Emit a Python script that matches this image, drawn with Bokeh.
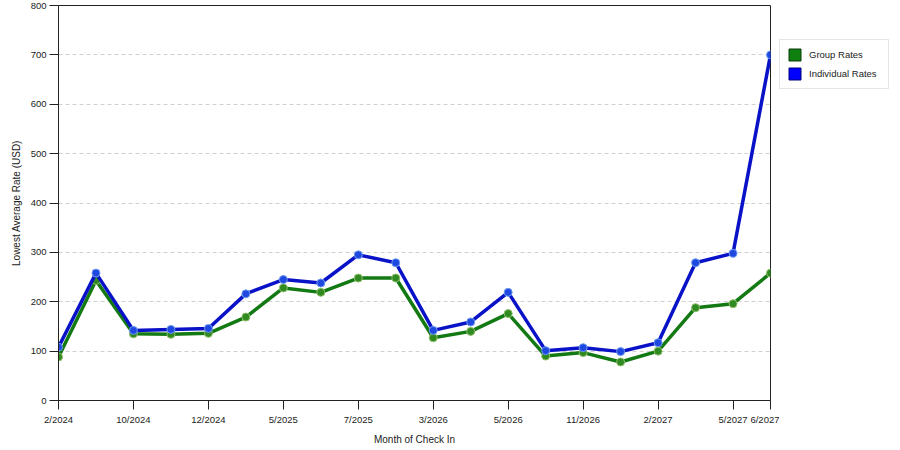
from bokeh.plotting import figure
from bokeh.layouts import row
from bokeh.models import (ColumnDataSource, Legend, LegendItem, FixedTicker,
                          Range1d)
from bokeh.embed import file_html
from bokeh.resources import INLINE

# datos
months = list(range(20))
tick_idx = [0, 2, 4, 6, 8, 10, 12, 14, 16, 18, 19]
tick_labels = ["2/2024", "10/2024", "12/2024", "5/2025", "7/2025", "3/2026",
               "5/2026", "11/2026", "2/2027", "5/2027", "6/2027"]
group_rates = [88, 243, 135, 134, 136, 169, 228, 219, 248, 248,
               127, 140, 176, 90, 97, 78, 100, 188, 196, 258]
individual_rates = [108, 258, 142, 144, 146, 216, 245, 238, 295, 279,
                    142, 159, 219, 101, 107, 99, 117, 279, 298, 700]
y_ticks = [0, 100, 200, 300, 400, 500, 600, 700, 800]

FONT = "Liberation Sans"
TXT = "#222222"

source = ColumnDataSource(data=dict(x=months, group=group_rates, indiv=individual_rates))

p = figure(width=779, height=450, output_backend="svg", toolbar_location=None, tools="",
           x_range=Range1d(0, 19), y_range=Range1d(0, 800),
           min_border_left=58, min_border_right=9, min_border_top=5, min_border_bottom=50)
p.background_fill_color = "white"
p.border_fill_color = "white"
p.outline_line_color = "#222222"
p.outline_line_width = 1

# series
p.line('x', 'group', source=source, line_color="#137a13", line_width=3.5)
p.scatter('x', 'group', source=source, size=8, fill_color="#2f8a22", line_color="#8fbf6a", line_width=1)
p.line('x', 'indiv', source=source, line_color="#0a12c8", line_width=3.5)
p.scatter('x', 'indiv', source=source, size=8, fill_color="#1f48e0", line_color="#6f9cf0", line_width=1)

# ejes
p.xaxis.ticker = FixedTicker(ticks=tick_idx)
p.xaxis.major_label_overrides = {i: lab for i, lab in zip(tick_idx, tick_labels)}
p.yaxis.ticker = FixedTicker(ticks=y_ticks)
p.xaxis.axis_label = "Month of Check In"
p.yaxis.axis_label = "Lowest Average Rate (USD)"
for ax in (p.xaxis, p.yaxis):
    ax.axis_line_color = "#222222"
    ax.major_tick_line_color = "#222222"
    ax.major_tick_in = 0
    ax.major_tick_out = 9
    ax.minor_tick_line_color = None
    ax.major_label_text_font = FONT
    ax.major_label_text_font_size = "9.5px"
    ax.major_label_text_color = TXT
    ax.axis_label_text_font = FONT
    ax.axis_label_text_font_size = "10px"
    ax.axis_label_text_font_style = "normal"
    ax.axis_label_text_color = TXT
p.xaxis.major_label_standoff = 4
p.xaxis.axis_label_standoff = 6
p.yaxis.major_label_standoff = 3
p.yaxis.axis_label_standoff = 6

p.xgrid.grid_line_color = None
p.ygrid.grid_line_color = "#d0d0d0"
p.ygrid.grid_line_dash = "4 3"

# leyenda en una figura aparte, a la derecha
q = figure(width=121, height=450, output_backend="svg", toolbar_location=None, tools="",
           x_range=Range1d(0, 1), y_range=Range1d(0, 1), x_axis_type=None, y_axis_type=None,
           min_border=0)
q.outline_line_color = None
q.xgrid.grid_line_color = None
q.ygrid.grid_line_color = None
nan = float("nan")
g_box = q.quad(left=[nan], right=[nan], top=[nan], bottom=[nan], fill_color="#0f7f0f", line_color="#0b3d0b")
i_box = q.quad(left=[nan], right=[nan], top=[nan], bottom=[nan], fill_color="#0000ff", line_color="#00007a")
legend = Legend(items=[LegendItem(label="Group Rates", renderers=[g_box]),
                       LegendItem(label="Individual Rates", renderers=[i_box])],
                location=(0, 311))
legend.border_line_color = "#cccccc"
legend.background_fill_color = "white"
legend.label_text_font = FONT
legend.label_text_font_size = "9.5px"
legend.label_text_color = TXT
legend.label_width = 72
legend.glyph_width = 15
legend.glyph_height = 15
legend.spacing = 4
legend.padding = 7
legend.margin = 0
legend.label_standoff = 7
q.add_layout(legend)

layout = row(p, q, spacing=0)

open("out.html", "w").write(file_html(layout, INLINE))
